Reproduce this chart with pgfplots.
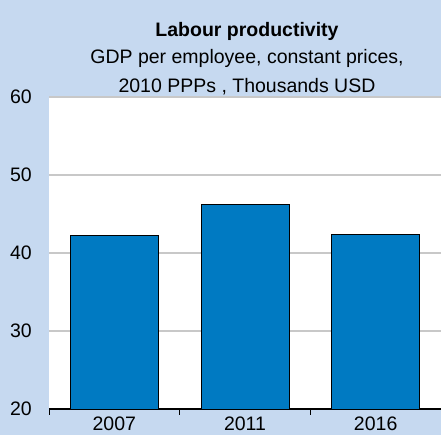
\documentclass[border=0pt]{standalone}
\usepackage{fontspec}
\setmainfont{Liberation Sans}
\usepackage{pgfplots}
\pgfplotsset{compat=1.18}
\definecolor{bgblue}{RGB}{198,217,240}
\definecolor{barblue}{RGB}{0,122,194}
\definecolor{gridgrey}{RGB}{200,200,200}

\begin{document}
\begin{tikzpicture}[x=1pt,y=1pt]
\fill[bgblue] (-49,-26) rectangle (392,409);
\begin{axis}[%
  at={(0,0)}, anchor=south west,%
  scale only axis, width=392pt, height=312pt,%
  xmin=-0.5, xmax=2.5, ymin=20, ymax=60,%
  ytick={20,30,...,60},%
  xtick={0,1,2}, xticklabels={2007,2011,2016},%
  minor xtick={-0.5,0.5,1.5,2.5},%
  axis background/.style={fill=white},%
  axis x line=bottom, axis y line=left,%
  x axis line style={-, black, line width=1.3pt},%
  y axis line style={draw=none},%
  ymajorgrids, grid style={gridgrey, line width=1.3pt},%
  major tick length=0pt, minor tick length=6pt, tick align=outside,%
  minor tick style={black, line width=1pt},%
  ticklabel style={font=\fontsize{19.5}{22}\selectfont, inner sep=0pt},%
  /pgf/number format/assume math mode=true,%
  yticklabel style={anchor=east, xshift=-17pt},%
  xticklabel style={anchor=north, yshift=-8pt},%
  ybar, bar width=88pt,%
  clip=false,%
]
\addplot[fill=barblue, draw=black, line width=0.7pt] coordinates {(0,42.3) (1,46.2) (2,42.4)};
\end{axis}
\node[anchor=base, font=\fontsize{19.5}{22}\selectfont\bfseries] at (198,372) {Labour productivity};
\node[anchor=base, font=\fontsize{19.5}{22}\selectfont] at (198,345) {GDP per employee, constant prices,};
\node[anchor=base, font=\fontsize{19.5}{22}\selectfont] at (198,316.5) {2010 PPPs , Thousands USD};
\pgfresetboundingbox
\path (-49,-26) rectangle (392,409);
\end{tikzpicture}
\end{document}
